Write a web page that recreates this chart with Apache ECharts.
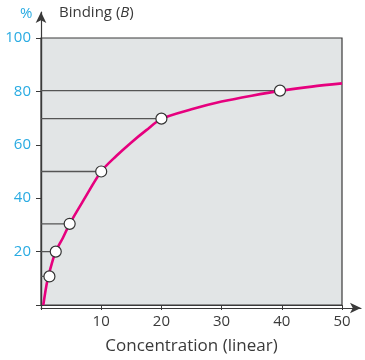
<!DOCTYPE html>
<html><head><meta charset="utf-8">
<script src="https://cdn.jsdelivr.net/npm/echarts@6/dist/echarts.min.js"></script>
<style>html,body{margin:0;padding:0;background:#fff}#c{width:365px;height:360px}</style>
</head><body><div id="c"></div>
<script>
// Curve: concentration, binding (%)
const curveX = [0.38, 1.05, 1.77, 2.44, 3.65, 4.76, 7, 10, 12.5, 15, 17.5, 20, 25, 30, 35, 40, 45, 50];
const curveY = [0, 9.1, 15.3, 20, 25.2, 30.4, 39, 50, 55.8, 60.9, 65.5, 69.7, 73.3, 76.2, 78.4, 80.3, 81.8, 83];
// Marked points
const pointX = [1.4, 2.45, 4.76, 10, 20, 39.7];
const pointY = [10.7, 20, 30.4, 50, 69.8, 80.3];
const xTicks = [10, 20, 30, 40, 50];
const yTicks = [20, 40, 60, 80, 100];

const font = '"Open Sans", "Noto Sans", sans-serif';
const dark = '#3a3a3a';
const blue = '#29abe2';
const curve = curveX.map((x, i) => [x, curveY[i]]);
const pts = pointX.map((x, i) => [x, pointY[i]]);
const guideSeries = pts.map(p => ({
  type: 'line', xAxisIndex: 0, yAxisIndex: 0, data: [[0, p[1]], p],
  symbol: 'none', lineStyle: { color: '#555', width: 1.3 }, z: 2, silent: true
}));

const chart = echarts.init(document.getElementById('c'), null, { renderer: 'canvas' });
chart.setOption({
  animation: false,
  grid: [
    { left: 41, right: 23, top: 38, bottom: 52, show: true, backgroundColor: '#e2e5e6', borderColor: dark, borderWidth: 1.2 },
    { left: 41, right: 4, top: 12, bottom: 52, show: false }
  ],
  xAxis: [
    { type: 'value', gridIndex: 0, min: 0, max: 50, interval: 10,
      axisLine: { lineStyle: { color: dark, width: 1.2 } },
      axisTick: { show: true, length: 5, lineStyle: { color: dark } },
      splitLine: { show: false },
      axisLabel: { color: dark, fontSize: 15, fontFamily: font, margin: 9,
        formatter: v => xTicks.includes(v) ? String(v) : '' },
      name: 'Concentration (linear)', nameLocation: 'middle', nameGap: 33,
      nameTextStyle: { color: dark, fontSize: 17, fontFamily: font } },
    { type: 'value', gridIndex: 1, min: 0, max: 1,
      axisLine: { show: true, symbol: ['none', 'arrow'], symbolSize: [8, 11], lineStyle: { color: dark, width: 1.2 } },
      axisTick: { show: false }, axisLabel: { show: false }, splitLine: { show: false } }
  ],
  yAxis: [
    { type: 'value', gridIndex: 0, min: 0, max: 100, interval: 20,
      axisLine: { show: true, lineStyle: { color: dark, width: 1.2 } },
      axisTick: { show: true, length: 5, lineStyle: { color: dark } },
      splitLine: { show: false },
      axisLabel: { color: blue, fontSize: 15, fontFamily: font, margin: 10,
        formatter: v => yTicks.includes(v) ? String(v) : '' } },
    { type: 'value', gridIndex: 1, min: 0, max: 1,
      axisLine: { show: true, symbol: ['none', 'arrow'], symbolSize: [8, 11], lineStyle: { color: dark, width: 1.2 } },
      axisTick: { show: false }, axisLabel: { show: false }, splitLine: { show: false } }
  ],
  graphic: [
    { type: 'text', left: 20, top: 6, style: { text: '%', fill: blue, font: '15px ' + font } },
    { type: 'text', left: 59, top: 5, style: {
      text: '{a|Binding (}{b|B}{a|)}',
      rich: { a: { fill: dark, font: '15px ' + font }, b: { fill: dark, font: 'italic 15px ' + font } } } }
  ],
  series: [
    ...guideSeries,
    { type: 'line', xAxisIndex: 0, yAxisIndex: 0, data: curve, smooth: 0.3, symbol: 'none',
      lineStyle: { color: '#e6007e', width: 2.6 }, z: 3 },
    { type: 'scatter', xAxisIndex: 0, yAxisIndex: 0, data: pts, symbol: 'circle', symbolSize: 11,
      itemStyle: { color: '#fff', borderColor: '#333', borderWidth: 1.2, opacity: 1 }, z: 4 }
  ]
});
</script></body></html>
